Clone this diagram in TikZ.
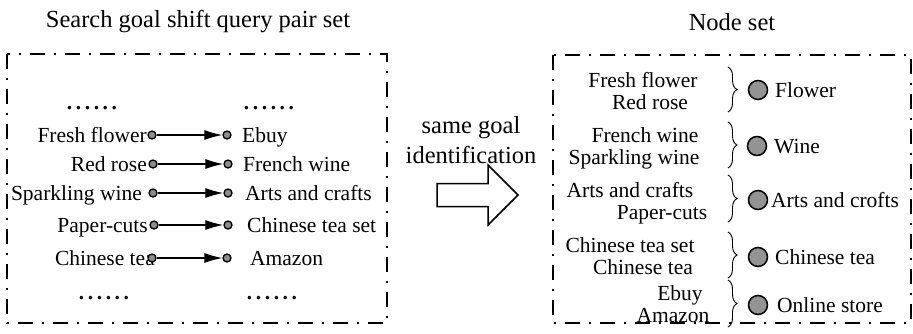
\documentclass[tikz,border=0pt]{standalone}
\usepackage{fontspec}
\setmainfont{Liberation Serif}
\usetikzlibrary{arrows.meta,decorations.pathreplacing}

\begin{document}
\begin{tikzpicture}[x=1pt,y=-1pt,
  body/.style={inner sep=0pt,font=\fontsize{21.5}{24}\selectfont},
  head/.style={inner sep=0pt,font=\fontsize{24.5}{28}\selectfont},
  setbox/.style={line width=1.4pt,dash pattern=on 15pt off 9pt on 2pt off 9pt},
  pin/.style={circle,draw=black,fill=gray!90,line width=1.3pt,minimum size=8pt,inner sep=0pt},
  bigpin/.style={circle,draw=black,fill=gray!85,line width=1.5pt,minimum size=19pt,inner sep=0pt},
  pairarrow/.style={line width=1.2pt,-{Latex[length=18pt,width=10pt]}},
  grp/.style={decorate,decoration={brace,amplitude=9pt},line width=0.9pt},
  dots/.style={body,font=\fontsize{21.5}{24}\selectfont\bfseries}
]
\useasboundingbox (0,0) rectangle (913,333);

% ---- left panel: query pairs ----
\node[head,anchor=base] (ltitle) at (198,27) {Search goal shift query pair set};
\draw[setbox] (7,54) rectangle (387,323);

\node[dots,anchor=base] (ldots1) at (92,109) {.\,.\,.\,.\,.\,.};
\node[dots,anchor=base] (rdots1) at (269,109) {.\,.\,.\,.\,.\,.};
\node[dots,anchor=base] (ldots2) at (104,299) {.\,.\,.\,.\,.\,.};
\node[dots,anchor=base] (rdots2) at (272,299) {.\,.\,.\,.\,.\,.};

% source queries
\node[body,anchor=base east] (q1) at (147,142) {Fresh flower};
\node[body,anchor=base east] (q2) at (147,171) {Red rose};
\node[body,anchor=base east] (q3) at (142,200) {Sparkling wine};
\node[body,anchor=base east] (q4) at (148,232) {Paper-cuts};
\node[body,anchor=base east] (q5) at (155,265) {Chinese tea};

% target queries
\node[body,anchor=base west] (t1) at (242,142) {Ebuy};
\node[body,anchor=base west] (t2) at (243,171) {French wine};
\node[body,anchor=base west] (t3) at (245,200) {Arts and crafts};
\node[body,anchor=base west] (t4) at (247,232) {Chinese tea set};
\node[body,anchor=base west] (t5) at (250,265) {Amazon};

% pair endpoints and arrows
\node[pin] (a1) at (152,135) {};
\node[pin] (a2) at (153,164) {};
\node[pin] (a3) at (153,193) {};
\node[pin] (a4) at (154,225) {};
\node[pin] (a5) at (152,258) {};
\node[pin] (b1) at (227,135) {};
\node[pin] (b2) at (228,164) {};
\node[pin] (b3) at (228,193) {};
\node[pin] (b4) at (228,225) {};
\node[pin] (b5) at (227,258) {};
\foreach \i in {1,...,5} \draw[pairarrow] (a\i) -- (b\i);

% ---- middle: identification step ----
\node[head,anchor=base] (m1) at (471,133) {same goal};
\node[head,anchor=base] (m2) at (471,163) {identification};
\draw[line width=1.5pt,line join=miter]
  (437,183.5) -- (488,183.5) -- (488,165) -- (518,195) -- (488,225)
  -- (488,206.5) -- (437,206.5) -- cycle;

% ---- right panel: node set ----
\node[head,anchor=base] (rtitle) at (732,30) {Node set};
\draw[setbox] (553,55) rectangle (911,323);

\node[body,anchor=base] (g1a) at (643,87) {Fresh flower};
\node[body,anchor=base] (g1b) at (650,109) {Red rose};
\node[body,anchor=base] (g2a) at (645,142) {French wine};
\node[body,anchor=base] (g2b) at (634,164) {Sparkling wine};
\node[body,anchor=base] (g3a) at (630,197) {Arts and crafts};
\node[body,anchor=base] (g3b) at (662,219) {Paper-cuts};
\node[body,anchor=base] (g4a) at (630,252) {Chinese tea set};
\node[body,anchor=base] (g4b) at (643,274) {Chinese tea};
\node[body,anchor=base] (g5a) at (680,300) {Ebuy};
\node[body,anchor=base] (g5b) at (673,322) {Amazon};

\coordinate (br1t) at (728,67);  \coordinate (br1b) at (728,112);
\coordinate (br2t) at (728,122); \coordinate (br2b) at (728,168);
\coordinate (br3t) at (728,175); \coordinate (br3b) at (728,222);
\coordinate (br4t) at (728,232); \coordinate (br4b) at (728,278);
\coordinate (br5t) at (728,280); \coordinate (br5b) at (728,327);
\foreach \i in {1,...,5} \draw[grp] (br\i t) -- (br\i b);

\node[bigpin] (n1) at (758,90) {};
\node[bigpin] (n2) at (757,146) {};
\node[bigpin] (n3) at (758,200) {};
\node[bigpin] (n4) at (758,257) {};
\node[bigpin] (n5) at (758,305) {};

\node[body,anchor=base west] (l1) at (775,97) {Flower};
\node[body,anchor=base west] (l2) at (774,153) {Wine};
\node[body,anchor=base west] (l3) at (771,207) {Arts and crofts};
\node[body,anchor=base west] (l4) at (775,264) {Chinese tea};
\node[body,anchor=base west] (l5) at (777,312) {Online store};
\end{tikzpicture}
\end{document}
